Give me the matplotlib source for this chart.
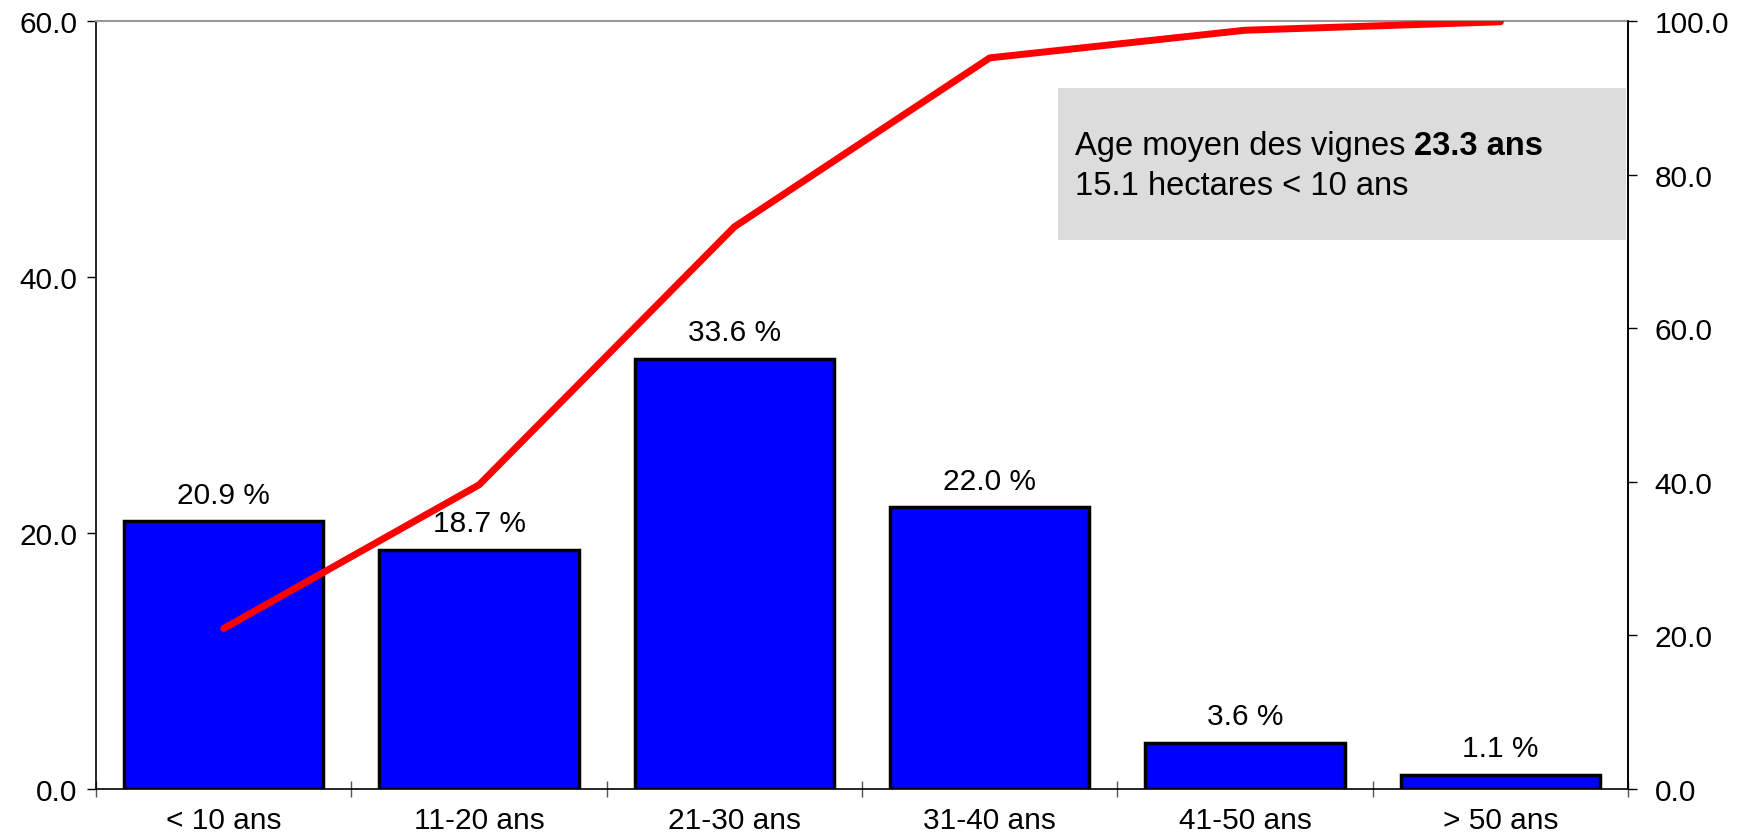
import matplotlib
matplotlib.use('Agg')
import matplotlib.pyplot as plt
from matplotlib.patches import Rectangle

# Data
categories = ['< 10 ans', '11-20 ans', '21-30 ans', '31-40 ans', '41-50 ans', '> 50 ans']
share_pct = [20.9, 18.7, 33.6, 22.0, 3.6, 1.1]
cumul_pct = [20.9, 39.6, 73.2, 95.2, 98.8, 99.9]
left_ticks = [0, 20, 40, 60]
right_ticks = [0, 20, 40, 60, 80, 100]

plt.rcParams['font.family'] = ['Liberation Sans', 'DejaVu Sans']

fig = plt.figure(figsize=(17.37, 8.37), dpi=100)
ax = fig.add_axes([0.0553, 0.0562, 0.8820, 0.9175])

x = list(range(len(categories)))
bars = ax.bar(x, share_pct, width=0.78, color='#0000FF', edgecolor='black', linewidth=2.5, zorder=2)

ax.set_xlim(-0.5, len(categories) - 0.5)
ax.set_ylim(0, 60)
ax.set_yticks(left_ticks)
ax.set_yticklabels([f'{v:.1f}' for v in left_ticks])

# category boundaries as major ticks, labels on minor ticks
ax.set_xticks([i - 0.5 for i in range(len(categories) + 1)])
ax.set_xticklabels([])
ax.set_xticks(x, minor=True)
ax.set_xticklabels(categories, minor=True)
ax.tick_params(axis='x', which='major', direction='inout', length=12, width=1, color='#555555')
ax.tick_params(axis='x', which='minor', length=0, pad=12, labelsize=21.5)
ax.tick_params(axis='y', direction='out', length=6.5, width=1, pad=7, labelsize=21.5)

for rect, v in zip(bars, share_pct):
    ax.annotate(f'{v:.1f} %', xy=(rect.get_x() + rect.get_width() / 2, v),
                xytext=(0, 9), textcoords='offset points',
                ha='center', va='bottom', fontsize=21.5)

ax.spines['top'].set_color('#999999')
ax.spines['top'].set_linewidth(1.5)
for s in ['left', 'right', 'bottom']:
    ax.spines[s].set_color('black')
    ax.spines[s].set_linewidth(1.2)

ax2 = ax.twinx()
ax2.plot(x, cumul_pct, color='#FF0000', linewidth=5, solid_capstyle='round', zorder=3)
ax2.set_ylim(0, 100)
ax2.set_yticks(right_ticks)
ax2.set_yticklabels([f'{v:.1f}' for v in right_ticks])
ax2.tick_params(axis='y', direction='out', length=6.5, width=1, pad=12.5, labelsize=21.5)
ax2.spines['top'].set_visible(False)
ax2.spines['left'].set_visible(False)
ax2.spines['bottom'].set_visible(False)
ax2.spines['right'].set_linewidth(1.2)

# info box
ax2.add_patch(Rectangle((0.628, 0.7148), 0.3707, 0.198, transform=ax2.transAxes,
                        facecolor='#DCDCDC', edgecolor='none', zorder=1))
t1 = ax2.text(0.639, 0.827, 'Age moyen des vignes', transform=ax2.transAxes,
              fontsize=23.5, va='baseline', ha='left', zorder=4)
ax2.annotate('23.3 ans', xy=(1, 0), xycoords=t1, xytext=(6.5, 0), textcoords='offset points',
             fontsize=23.5, fontweight='bold', va='bottom', ha='left', zorder=4)
ax2.text(0.639, 0.775, '15.1 hectares < 10 ans', transform=ax2.transAxes,
         fontsize=23.5, va='baseline', ha='left', zorder=4)

fig.savefig('out.png', dpi=100)
